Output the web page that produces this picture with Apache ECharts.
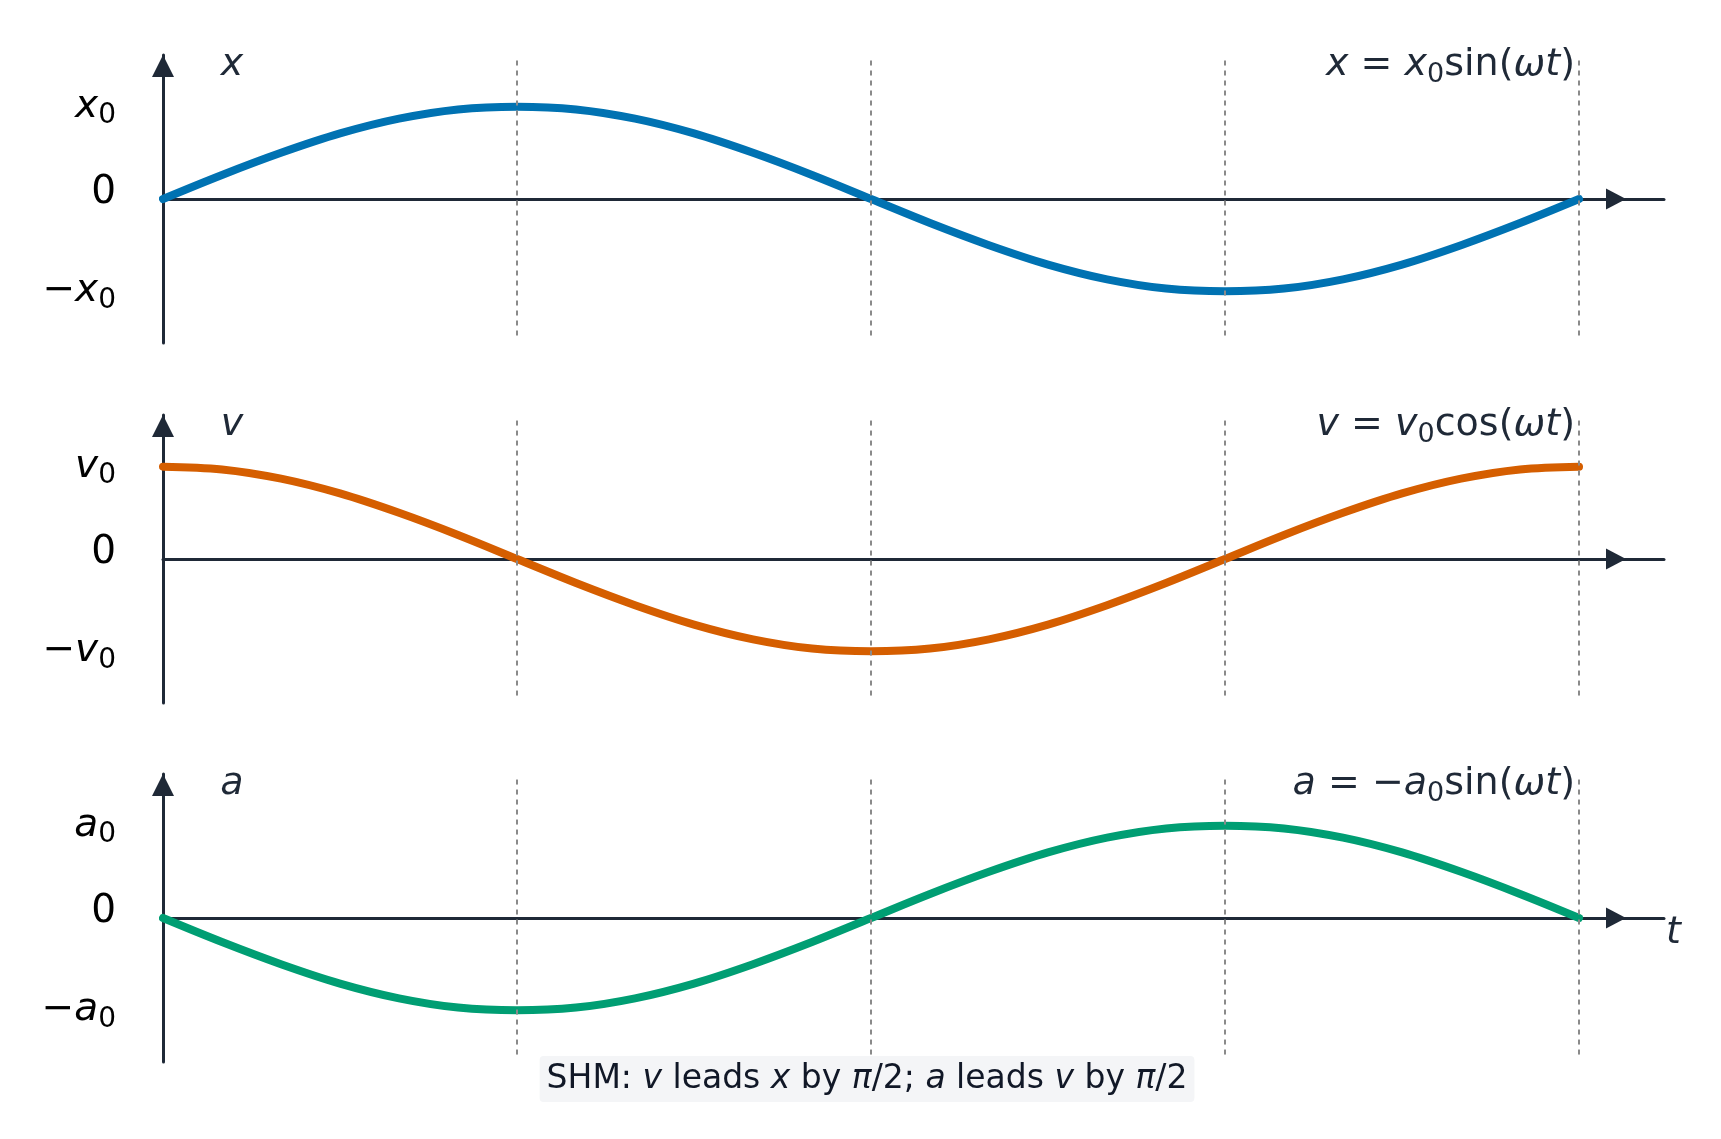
<!DOCTYPE html>
<html><head><meta charset="utf-8">
<script src="https://cdn.jsdelivr.net/npm/echarts@6/dist/echarts.min.js"></script>
<style>html,body{margin:0;padding:0;background:#fff}#c{width:1721px;height:1139px}</style>
</head><body><div id="c"></div>
<script>
// phase (degrees of ωt) at which values were read
const phaseDeg = [0,15,30,45,60,75,90,105,120,135,150,165,180,195,210,225,240,255,270,285,300,315,330,345,360];
// displacement x / x0
const xValues = [0,0.26,0.5,0.71,0.87,0.97,1,0.97,0.87,0.71,0.5,0.26,0,-0.26,-0.5,-0.71,-0.87,-0.97,-1,-0.97,-0.87,-0.71,-0.5,-0.26,0];
// velocity v / v0
const vValues = [1,0.97,0.87,0.71,0.5,0.26,0,-0.26,-0.5,-0.71,-0.87,-0.97,-1,-0.97,-0.87,-0.71,-0.5,-0.26,0,0.26,0.5,0.71,0.87,0.97,1];
// acceleration a / a0
const aValues = [0,-0.26,-0.5,-0.71,-0.87,-0.97,-1,-0.97,-0.87,-0.71,-0.5,-0.26,0,0.26,0.5,0.71,0.87,0.97,1,0.97,0.87,0.71,0.5,0.26,0];
// dotted guide lines (phase) and their vertical extent
const guidePhases = [90,180,270,360];
const guideExtent = 1.5;
// y tick values and variable symbols
const yTickValues = [-1,0,1];
const symbols = ['x','v','a'];
const formulaParts = [
  '{i|x}{n| = }{i|x}{s|0}{n|sin(}{i|ωt}{n|)}',
  '{i|v}{n| = }{i|v}{s|0}{n|cos(}{i|ωt}{n|)}',
  '{i|a}{n| = −}{i|a}{s|0}{n|sin(}{i|ωt}{n|)}'
];
const captionText = '{n|SHM: }{i|v}{n| leads }{i|x}{n| by }{i|π}{n|/2; }{i|a}{n| leads }{i|v}{n| by }{i|π}{n|/2}';
const timeLabel = 't';

const FONT = 'DejaVu Sans';
const AX = '#1f2937';
const COLORS = ['#0072B2', '#D55E00', '#009E73'];
const seriesData = [xValues, vValues, aValues];
const tops = [55, 415, 774];
const GRID_LEFT = 163, GRID_W = 1501, GRID_H = 288;
const X_MAX = 381.6;
const Y_MAX = 1.56;

const chart = echarts.init(document.getElementById('c'), null, {renderer: 'canvas'});

function labelRich(color, size) {
  const f = size || 39;
  return {
    i: {fontFamily: FONT, fontStyle: 'italic', fontSize: f, lineHeight: 46, color: color, fill: color},
    n: {fontFamily: FONT, fontSize: f, lineHeight: 46, color: color, fill: color},
    m: {fontFamily: FONT, fontSize: f, lineHeight: 46, color: color, fill: color},
    s: {fontFamily: FONT, fontSize: Math.round(f * 0.72), lineHeight: 24, verticalAlign: 'bottom', color: color, fill: color},
    z: {fontFamily: FONT, fontSize: f, lineHeight: 46, padding: [0, 0, 12, 0], color: color, fill: color}
  };
}

const grid = tops.map(t => ({left: GRID_LEFT, width: GRID_W, top: t, height: GRID_H}));
const xAxis = tops.map((t, i) => ({
  type: 'value', gridIndex: i, min: 0, max: X_MAX,
  axisLine: {onZero: true, lineStyle: {color: AX, width: 3},
    symbol: ['none', 'triangle'], symbolSize: [21, 20], symbolOffset: [0, -48]},
  axisTick: {show: false}, axisLabel: {show: false}, splitLine: {show: false}
}));
const yAxis = tops.map((t, i) => ({
  type: 'value', gridIndex: i, min: -Y_MAX, max: Y_MAX,
  axisLine: {show: true, onZero: false, lineStyle: {color: AX, width: 3},
    symbol: ['none', 'triangle'], symbolSize: [22, 22], symbolOffset: [0, -11]},
  axisTick: {show: false}, splitLine: {show: false},
  axisLabel: {
    customValues: yTickValues, margin: 47,
    formatter: function (v) {
      const s = symbols[i];
      if (v === 0) return '{z|0}';
      if (v > 0) return '{i|' + s + '}{s|0}';
      return '{m|−}{i|' + s + '}{s|0}';
    },
    rich: labelRich('#000000', 39)
  }
}));

const series = seriesData.map((vals, i) => ({
  type: 'line', xAxisIndex: i, yAxisIndex: i,
  data: phaseDeg.map((p, j) => [p, vals[j]]),
  smooth: 0.35, showSymbol: false, symbol: 'none',
  lineStyle: {color: COLORS[i], width: 8, cap: 'round'},
  z: 3,
  markLine: {
    silent: true, symbol: 'none', label: {show: false},
    lineStyle: {color: '#8a8a8a', type: [5, 5], width: 2},
    data: guidePhases.map(p => [{coord: [p, guideExtent]}, {coord: [p, -guideExtent]}])
  }
}));

const graphic = [];
tops.forEach((t, i) => {
  graphic.push({
    type: 'text', z: 10,
    style: {x: 232, y: t + 10, text: '{i|' + symbols[i] + '}', align: 'center', verticalAlign: 'middle',
      rich: labelRich(AX, 38)}
  });
  graphic.push({
    type: 'text', z: 10,
    style: {x: 1575, y: t + 10, text: formulaParts[i], align: 'right', verticalAlign: 'middle',
      rich: labelRich(AX, 38)}
  });
});
graphic.push({
  type: 'text', z: 10,
  style: {x: 1666, y: tops[2] + 159, text: '{i|' + timeLabel + '}', align: 'left', verticalAlign: 'middle',
    rich: labelRich(AX, 38)}
});
graphic.push({
  type: 'text', z: 10,
  style: {x: 867, y: 1079, text: captionText, align: 'center', verticalAlign: 'middle',
    backgroundColor: 'rgba(243,244,246,0.9)', padding: [4, 7, 4, 7], borderRadius: 4,
    rich: {
      n: {fontFamily: FONT, fontSize: 33, lineHeight: 38, color: '#111827', fill: '#111827'},
      i: {fontFamily: FONT, fontStyle: 'italic', fontSize: 33, lineHeight: 38, color: '#111827', fill: '#111827'}
    }}
});

chart.setOption({
  animation: false,
  backgroundColor: '#ffffff',
  grid: grid, xAxis: xAxis, yAxis: yAxis, series: series, graphic: graphic
});
</script>
</body></html>
